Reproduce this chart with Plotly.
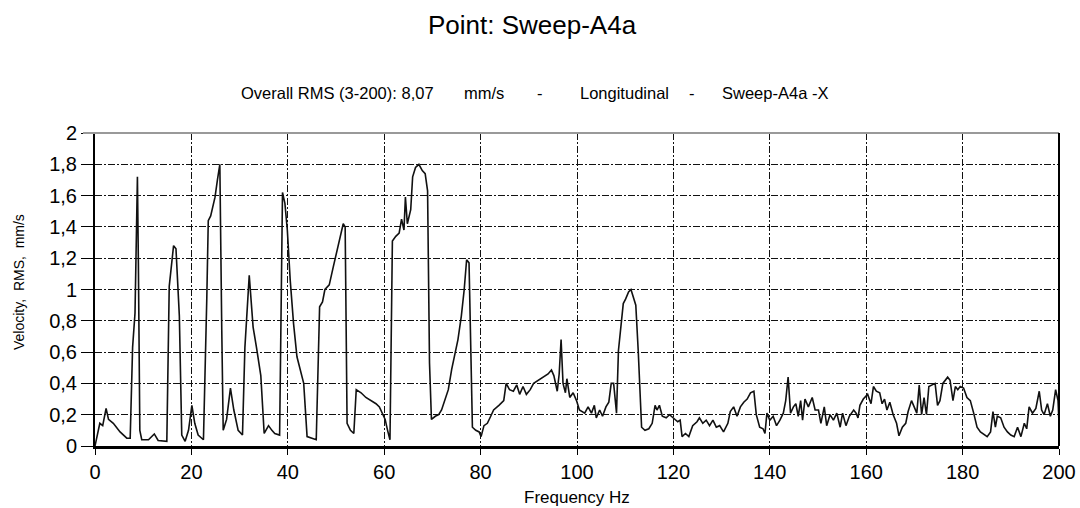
import plotly.graph_objects as go

freq_hz = [
    0.0, 1.0, 1.6, 2.3, 2.8, 3.8, 5.2, 6.6, 7.3, 7.8, 8.3, 8.8, 9.0, 9.3, 9.7, 11.1, 12.3, 13.1, 14.9,
    15.4, 16.3, 16.8, 17.5, 18.0, 18.7, 19.4, 20.1, 20.7, 21.4, 22.5, 23.2, 23.5, 24.0, 24.4, 24.9,
    25.4, 25.9, 26.3, 26.6, 27.3, 28.1, 28.8, 29.7, 30.6, 31.1, 32.0, 32.8, 33.5, 34.4, 35.1, 36.0,
    36.7, 37.3, 38.3, 38.9, 39.4, 39.9, 40.5, 41.2, 41.9, 42.6, 43.3, 44.0, 45.0, 45.9, 46.6, 47.2,
    47.7, 48.6, 49.4, 50.1, 50.8, 51.5, 51.9, 52.3, 53.0, 53.7, 54.2, 55.2, 56.2, 57.3, 58.3, 59.0,
    60.2, 60.7, 61.2, 61.7, 62.4, 63.1, 63.6, 64.1, 64.4, 64.8, 65.5, 65.9, 66.5, 67.2, 67.9, 68.5,
    69.0, 69.4, 69.8, 70.6, 71.3, 71.9, 72.6, 73.3, 74.0, 74.7, 75.3, 76.0, 76.6, 77.1, 77.6, 78.3,
    79.0, 79.7, 80.1, 80.7, 81.4, 82.1, 82.7, 83.8, 84.8, 85.3, 86.0, 86.8, 87.5, 88.1, 88.8, 89.5,
    90.3, 91.0, 92.0, 93.0, 94.0, 94.7, 95.2, 95.9, 96.3, 96.7, 97.1, 97.6, 97.9, 98.5, 99.2, 99.9,
    100.5, 101.6, 102.3, 103.0, 103.6, 104.0, 104.7, 105.3, 106.0, 106.6, 107.1, 107.6, 108.2, 108.6,
    109.1, 109.6, 110.1, 110.7, 111.2, 111.7, 112.2, 112.7, 113.1, 113.4, 114.1, 114.9, 115.6, 116.2,
    116.6, 117.1, 117.7, 118.5, 119.2, 120.0, 120.9, 121.4, 121.8, 122.5, 123.2, 124.0, 124.9, 125.4,
    126.1, 126.8, 127.5, 128.2, 128.9, 129.6, 130.4, 131.3, 131.8, 132.5, 133.2, 133.9, 134.6, 135.3,
    136.0, 136.7, 137.2, 137.9, 138.6, 139.0, 139.4, 140.0, 140.7, 141.4, 142.1, 142.8, 143.3, 143.8,
    144.3, 144.9, 145.4, 145.9, 146.4, 146.8, 147.3, 148.0, 148.8, 149.4, 150.1, 150.6, 151.3, 151.8,
    152.5, 153.2, 153.9, 154.6, 155.1, 155.8, 156.5, 157.4, 157.9, 158.3, 158.7, 159.4, 160.3, 161.0,
    161.5, 162.1, 162.8, 163.3, 163.8, 164.3, 164.9, 165.6, 166.3, 166.8, 167.5, 168.2, 168.7, 169.4,
    170.1, 170.5, 171.0, 171.5, 172.0, 172.5, 173.0, 173.6, 174.3, 174.8, 175.3, 175.9, 176.4, 176.9,
    177.4, 178.0, 178.5, 179.0, 179.5, 180.2, 180.9, 181.6, 182.3, 183.0, 183.7, 184.4, 185.1, 185.8,
    186.3, 186.8, 187.2, 187.9, 188.6, 189.3, 190.0, 190.7, 191.4, 192.1, 192.8, 193.3, 193.8, 194.5,
    195.2, 195.9, 196.4, 196.9, 197.6, 198.2, 198.7, 199.3, 199.8, 200.0,
]

velocity_rms = [
    0.0, 0.145, 0.13, 0.24, 0.17, 0.145, 0.09, 0.05, 0.05, 0.63, 0.85, 1.72, 1.17, 0.10, 0.04, 0.04, 0.077, 0.035, 0.03,
    1.02, 1.28, 1.26, 0.83, 0.07, 0.03, 0.10, 0.26, 0.145, 0.07, 0.04, 0.95, 1.44, 1.47, 1.53, 1.59,
    1.70, 1.80, 0.74, 0.10, 0.17, 0.37, 0.23, 0.10, 0.07, 0.63, 1.09, 0.76, 0.63, 0.45, 0.08, 0.13,
    0.10, 0.08, 0.07, 1.62, 1.55, 1.38, 1.06, 0.78, 0.57, 0.49, 0.40, 0.06, 0.05, 0.04, 0.89, 0.92,
    1.00, 1.03, 1.14, 1.23, 1.34, 1.42, 1.40, 0.145, 0.10, 0.08, 0.36, 0.34, 0.31, 0.29, 0.27, 0.25,
    0.17, 0.10, 0.04, 1.31, 1.34, 1.36, 1.45, 1.38, 1.59, 1.42, 1.51, 1.72, 1.78, 1.80, 1.76, 1.74,
    1.63, 0.53, 0.17, 0.19, 0.20, 0.23, 0.30, 0.36, 0.49, 0.59, 0.68, 0.83, 1.00, 1.19, 1.17, 0.12,
    0.10, 0.09, 0.06, 0.13, 0.145, 0.19, 0.23, 0.26, 0.29, 0.40, 0.36, 0.35, 0.39, 0.33, 0.38, 0.33,
    0.36, 0.40, 0.42, 0.44, 0.46, 0.485, 0.45, 0.35, 0.46, 0.68, 0.40, 0.34, 0.43, 0.31, 0.34, 0.29,
    0.23, 0.21, 0.25, 0.21, 0.26, 0.18, 0.23, 0.19, 0.25, 0.28, 0.40, 0.40, 0.21, 0.61,
    0.76, 0.91, 0.94, 0.985, 1.00, 0.95, 0.90, 0.61, 0.29, 0.12, 0.10, 0.11, 0.145, 0.26,
    0.23, 0.26, 0.19, 0.18, 0.20, 0.18, 0.155, 0.165, 0.06, 0.08, 0.06, 0.13, 0.155, 0.18,
    0.145, 0.165, 0.13, 0.165, 0.12, 0.13, 0.09, 0.145, 0.22, 0.25, 0.19, 0.25, 0.28, 0.30,
    0.34, 0.35, 0.20, 0.12, 0.11, 0.08, 0.21, 0.165, 0.19, 0.13, 0.165, 0.21, 0.29, 0.44,
    0.21, 0.25, 0.27, 0.19, 0.29, 0.165, 0.30, 0.25, 0.31, 0.23, 0.23, 0.145, 0.25, 0.13,
    0.20, 0.165, 0.21, 0.12, 0.21, 0.13, 0.19, 0.23, 0.21, 0.18, 0.26, 0.30, 0.33, 0.27,
    0.38, 0.35, 0.34, 0.27, 0.30, 0.23, 0.28, 0.20, 0.145, 0.065, 0.12, 0.145, 0.22, 0.29,
    0.24, 0.21, 0.39, 0.20, 0.31, 0.20, 0.38, 0.39, 0.40, 0.26, 0.29, 0.40, 0.42, 0.44,
    0.42, 0.29, 0.38, 0.36, 0.38, 0.37, 0.31, 0.29, 0.21, 0.12, 0.09, 0.077, 0.06, 0.09,
    0.22, 0.12, 0.19, 0.18, 0.12, 0.09, 0.07, 0.06, 0.12, 0.06, 0.145, 0.11, 0.25, 0.21,
    0.24, 0.35, 0.23, 0.20, 0.27, 0.19, 0.23, 0.36, 0.29, 0.145,
]

x_ticks = [0, 20, 40, 60, 80, 100, 120, 140, 160, 180, 200]
y_ticks = [0, 0.2, 0.4, 0.6, 0.8, 1.0, 1.2, 1.4, 1.6, 1.8, 2.0]

title_text = "Point: Sweep-A4a"
subtitle_parts = ["Overall RMS (3-200): 8,07", "mm/s", "-", "Longitudinal", "-", "Sweep-A4a -X"]
x_title = "Frequency Hz"
y_title = "Velocity,  RMS,  mm/s"

FONT = "Arial, Liberation Sans, sans-serif"
W, H = 1080, 508
L, R, T, B = 95, 1059, 133, 446
PW, PH = R - L, B - T

def px_x(p):
    return (p - L) / PW

def px_y(p):
    return (B - p) / PH

fig = go.Figure()
fig.add_trace(go.Scatter(
    x=freq_hz, y=velocity_rms, mode="lines",
    line=dict(color="#111111", width=1.6),
    hoverinfo="x+y", showlegend=False,
))

grid_dash = "7px,2px,2px,2px"
fig.update_layout(
    template="none",
    width=W, height=H, autosize=False,
    margin=dict(l=L, r=W - R, t=T, b=H - B, pad=0, autoexpand=False),
    paper_bgcolor="white", plot_bgcolor="white",
    separators=", ",
    font=dict(family=FONT, color="black"),
    xaxis=dict(
        range=[0, 200], tickvals=x_ticks, ticks="outside", ticklen=6, tickwidth=1,
        tickcolor="black", showline=True, linecolor="black", linewidth=3,
        showgrid=True, gridcolor="#111111", gridwidth=1, griddash=grid_dash,
        zeroline=False, tickfont=dict(size=20, family=FONT, color="black"),
        fixedrange=True, automargin=False,
    ),
    yaxis=dict(
        range=[0, 2], tickvals=y_ticks, ticks="outside", ticklen=12, tickwidth=1,
        tickcolor="black", showline=True, linecolor="black", linewidth=2,
        showgrid=True, gridcolor="#111111", gridwidth=1, griddash=grid_dash,
        zeroline=False, tickfont=dict(size=20, family=FONT, color="black"),
        fixedrange=True, automargin=False,
    ),
    shapes=[
        dict(type="line", xref="paper", yref="paper", x0=-12 / PW, x1=1, y0=1, y1=1,
             line=dict(color="#999999", width=2)),
        dict(type="line", xref="paper", yref="paper", x0=1, x1=1, y0=0, y1=1,
             line=dict(color="black", width=2)),
    ],
)

annotations = [
    dict(text=title_text, x=px_x(532), y=px_y(25), xanchor="center", yanchor="middle",
         font=dict(size=26)),
    dict(text=x_title, x=0.5, y=px_y(497), xanchor="center", yanchor="middle",
         font=dict(size=17)),
    dict(text=y_title.replace(" ", "\u00a0"), x=px_x(19), y=px_y(282), xanchor="center",
         yanchor="middle", textangle=-90, font=dict(size=14)),
]
sub_pos = [(239, "left"), (462, "left"), (540, "center"), (578, "left"), (692, "center"), (720, "left")]
for txt, (px, anc) in zip(subtitle_parts, sub_pos):
    annotations.append(dict(text=txt, x=px_x(px), y=px_y(93), xanchor=anc, yanchor="middle",
                            font=dict(size=16.5)))
for a in annotations:
    a.update(xref="paper", yref="paper", showarrow=False)
    a["font"].update(family=FONT, color="black")
fig.update_layout(annotations=annotations)

fig.write_html("out.html", config={"displayModeBar": False})
